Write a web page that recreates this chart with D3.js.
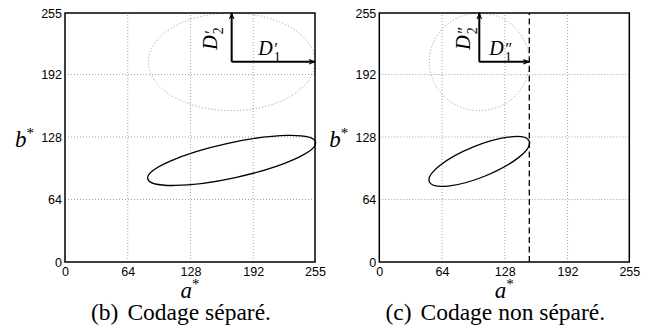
<!DOCTYPE html>
<html>
<head>
<meta charset="utf-8">
<script src="https://cdn.jsdelivr.net/npm/d3@7"></script>
<style>
  body { margin: 0; background: #fff; }
</style>
</head>
<body>
<svg id="chart" width="662" height="336"></svg>
<script>
// axis ticks (same on a* and b*)
const tickValues = [0, 64, 128, 192, 255]
const captionTags = ["(b)", "(c)"]
const captionTexts = ["Codage séparé.", "Codage non séparé."]
// dotted ellipse: [a centre, b centre, a radius, b radius]
const dottedEllipses = [[170, 205, 85, 50], [102, 205, 51, 50]]
// solid ellipse: [a centre, b centre, semi-major, semi-minor, angle in degrees]
const solidEllipses = [[170, 104, 87.6, 17.9, 12.3], [102, 103, 55, 16.1, 22.1]]
// end of the D1 arrow (a value) and of the D2 arrow (b value)
const d1Ends = [255, 153]
const d2Ends = [255, 255]
const primes = ["\u2032", "\u2033"]
// dashed cut line, only in the second panel
const cutLines = [null, 153]

const SERIF = "Liberation Serif"
const SANS = "Liberation Sans"

const svg = d3.select("#chart")
const panelLeft = [65, 379.3]
const plotW = 250, plotTop = 13, plotBottom = 262
const vLabelOffset = [15, 9]

svg.append("defs").append("marker")
  .attr("id", "arrow").attr("markerUnits", "userSpaceOnUse")
  .attr("markerWidth", 7).attr("markerHeight", 6)
  .attr("refX", 6).attr("refY", 3).attr("orient", "auto")
  .append("path").attr("d", "M0,0.8 L5.5,3 L0,5.2").attr("fill", "none")
  .attr("stroke", "#000").attr("stroke-width", 1.1)

const serifText = (sel) => sel.append("text").attr("font-family", SERIF).attr("fill", "#000")

captionTags.forEach((tag, i) => {
  const left = panelLeft[i]
  const x = d3.scaleLinear().domain([0, 255]).range([left, left + plotW])
  const y = d3.scaleLinear().domain([0, 255]).range([plotBottom, plotTop])
  const g = svg.append("g")

  // grid
  const grid = tickValues.slice(1, -1)
  g.selectAll(".gx").data(grid).join("line")
    .attr("x1", d => x(d)).attr("x2", d => x(d)).attr("y1", y(0)).attr("y2", y(255))
    .attr("stroke", "#8a8a8a").attr("stroke-width", 0.8).attr("stroke-dasharray", "1,2")
  g.selectAll(".gy").data(grid).join("line")
    .attr("y1", d => y(d)).attr("y2", d => y(d)).attr("x1", x(0)).attr("x2", x(255))
    .attr("stroke", "#8a8a8a").attr("stroke-width", 0.8).attr("stroke-dasharray", "1,2")

  // axes
  const xa = g.append("g").attr("transform", `translate(0,${plotBottom})`)
    .call(d3.axisBottom(x).tickValues(tickValues).tickSize(0).tickPadding(5))
  const ya = g.append("g").attr("transform", `translate(${left},0)`)
    .call(d3.axisLeft(y).tickValues(tickValues).tickSize(0).tickPadding(3))
  for (const a of [xa, ya]) {
    a.attr("font-family", SANS).attr("font-size", 12.5)
    a.select(".domain").remove()
    a.selectAll("text").attr("fill", "#000")
  }

  // dotted ellipse
  const de = dottedEllipses[i]
  g.append("ellipse")
    .attr("cx", x(de[0])).attr("cy", y(de[1]))
    .attr("rx", x(de[2]) - x(0)).attr("ry", y(0) - y(de[3]))
    .attr("fill", "none").attr("stroke", "#8a8a8a").attr("stroke-width", 0.9)
    .attr("stroke-dasharray", "1,2.2")

  // solid ellipse
  const se = solidEllipses[i]
  g.append("ellipse")
    .attr("cx", x(se[0])).attr("cy", y(se[1]))
    .attr("rx", x(se[2]) - x(0)).attr("ry", y(0) - y(se[3]))
    .attr("transform", `rotate(${-se[4]},${x(se[0])},${y(se[1])})`)
    .attr("fill", "none").attr("stroke", "#000").attr("stroke-width", 1.3)

  // cut line
  if (cutLines[i] !== null) {
    g.append("line")
      .attr("x1", x(cutLines[i])).attr("x2", x(cutLines[i]))
      .attr("y1", y(0)).attr("y2", y(255))
      .attr("stroke", "#000").attr("stroke-width", 1.3).attr("stroke-dasharray", "6,3.5")
  }

  // box
  g.append("rect").attr("x", x(0)).attr("y", y(255))
    .attr("width", x(255) - x(0)).attr("height", y(0) - y(255))
    .attr("fill", "none").attr("stroke", "#000").attr("stroke-width", 1.5)

  // arrows D1, D2
  const ox = x(de[0]), oy = y(de[1])
  g.append("line").attr("x1", ox).attr("y1", oy).attr("x2", x(d1Ends[i])).attr("y2", oy)
    .attr("stroke", "#000").attr("stroke-width", 2).attr("marker-end", "url(#arrow)")
  g.append("line").attr("x1", ox).attr("y1", oy).attr("x2", ox).attr("y2", y(d2Ends[i]))
    .attr("stroke", "#000").attr("stroke-width", 2).attr("marker-end", "url(#arrow)")

  const dLabel = (tx, ty, rot, sub) => {
    const lg = g.append("g").attr("transform", `translate(${tx},${ty}) rotate(${rot})`)
    serifText(lg).attr("font-style", "italic").attr("font-size", 20).text("D")
    serifText(lg).attr("x", 16).attr("y", -1).attr("font-size", 17).text(primes[i])
    serifText(lg).attr("x", 15.5).attr("y", 6.5).attr("font-size", 14).text(sub)
  }
  const mid1 = (ox + x(d1Ends[i])) / 2
  dLabel(mid1 - 15, oy - 6.7, 0, "1")
  dLabel(ox - vLabelOffset[i], oy - 12, -90, "2")

  // axis titles
  const at = serifText(g).attr("text-anchor", "middle").attr("x", x(127.5)).attr("y", 298)
  at.append("tspan").attr("font-style", "italic").attr("font-size", 23).text("a")
  at.append("tspan").attr("font-size", 15).attr("dy", -9).text("*")

  const bt = serifText(g).attr("text-anchor", "end").attr("x", left - 31).attr("y", y(127.5) + 9)
  bt.append("tspan").attr("font-style", "italic").attr("font-size", 23).text("b")
  bt.append("tspan").attr("font-size", 15).attr("dy", -9).text("*")

  // caption
  const ct = serifText(g).attr("text-anchor", "middle")
    .attr("x", x(127.5) - 9).attr("y", 320).attr("font-size", 23.5)
  ct.append("tspan").text(tag)
  ct.append("tspan").attr("dx", 9).text(captionTexts[i])
})
</script>
</body>
</html>
